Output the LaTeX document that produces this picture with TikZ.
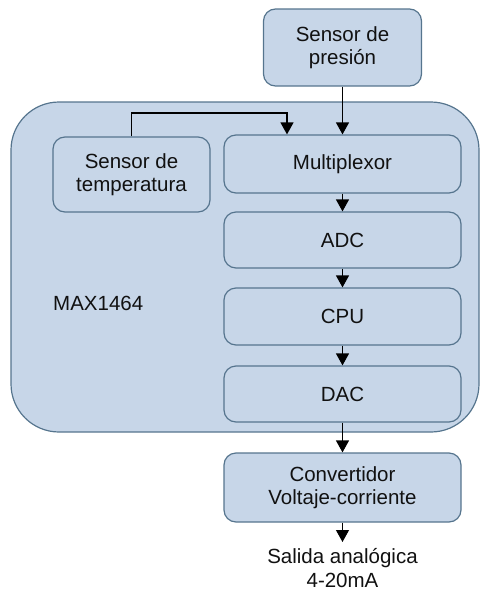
\documentclass[tikz,border=0pt]{standalone}
\usepackage{fontspec}
\setmainfont{Liberation Sans}
\usetikzlibrary{arrows.meta}
\definecolor{boxfill}{HTML}{C7D6E8}
\definecolor{boxline}{HTML}{56758E}
\definecolor{txt}{HTML}{111111}
\tikzset{
  blk/.style={draw=boxline, fill=boxfill, line width=1.2pt, rounded corners=12pt,
    align=center, text=txt, inner sep=0pt, font=\fontsize{20.5}{23.5}\selectfont},
  wide/.style={blk, minimum width=237pt},
  arr/.style={-{Triangle[length=12pt,width=13pt]}, line width=1.2pt, draw=black},
  lbl/.style={align=center, text=txt, inner sep=0pt, font=\fontsize{20.5}{24}\selectfont}
}
\begin{document}
\begin{tikzpicture}[x=1pt,y=1pt]
\useasboundingbox (0,0) rectangle (481,-592);
% outer chip
\node[blk, rounded corners=48pt, minimum width=468pt, minimum height=330pt] (chip) at (245,-267) {};
\node[lbl, anchor=west] (maxl) at (53,-303) {MAX1464};
% boxes
\node[blk, minimum width=158pt, minimum height=77pt] (pres) at (342.5,-47.5) {Sensor de\\presión};
\node[blk, minimum width=157pt, minimum height=75pt] (temp) at (131.5,-174.5) {Sensor de\\temperatura};
\node[wide, minimum height=58pt] (mux) at (342.5,-164) {Multiplexor};
\node[wide, minimum height=56pt] (adc) at (342.5,-240) {ADC};
\node[wide, minimum height=57pt] (cpu) at (342.5,-316.5) {CPU};
\node[wide, minimum height=56pt] (dac) at (342.5,-394) {DAC};
\node[wide, minimum height=69pt] (conv) at (342.5,-487.5) {Convertidor\\Voltaje-corriente};
\node[lbl, anchor=north] (out) at (342.5,-548) {Salida analógica\\4-20mA};
% connectors
\coordinate (tk) at (287,-113);
\draw[arr] (pres.south) -- (mux.north);
\draw[arr] (temp.north) |- (tk) -- (tk |- mux.north);
\draw[arr] (mux.south) -- (adc.north);
\draw[arr] (adc.south) -- (cpu.north);
\draw[arr] (cpu.south) -- (dac.north);
\draw[arr] (dac.south) -- (conv.north);
\draw[arr, shorten >=6pt] (conv.south) -- (out.north);
\end{tikzpicture}
\end{document}
